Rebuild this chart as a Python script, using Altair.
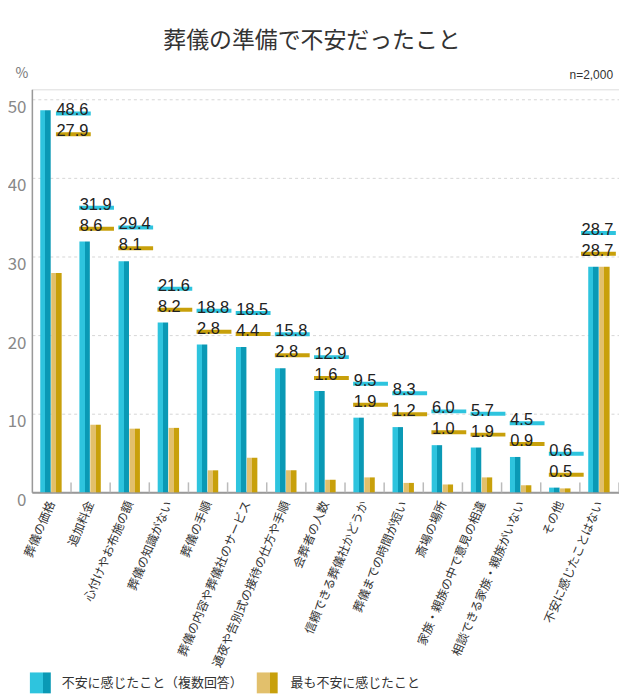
import altair as alt
import pandas as pd

categories = [
    "葬儀の価格", "追加料金", "心付けやお布施の額", "葬儀の知識がない", "葬儀の手順",
    "葬儀の内容や葬儀社のサービス", "通夜や告別式の接待の仕方や手順", "会葬者の人数",
    "信頼できる葬儀社かどうか", "葬儀までの時間が短い", "斎場の場所",
    "家族・親族の中で意見の相違", "相談できる家族・親族がいない", "その他", "不安に感じたことはない",
]
multi = [48.6, 31.9, 29.4, 21.6, 18.8, 18.5, 15.8, 12.9, 9.5, 8.3, 6.0, 5.7, 4.5, 0.6, 28.7]
most = [27.9, 8.6, 8.1, 8.2, 2.8, 4.4, 2.8, 1.6, 1.9, 1.2, 1.0, 1.9, 0.9, 0.5, 28.7]
y_ticks = [0, 10, 20, 30, 40, 50]
title_text = "葬儀の準備で不安だったこと"
legend_labels = ["不安に感じたこと（複数回答）", "最も不安に感じたこと"]
unit_text = "%"
n_text = "n=2,000"

df = pd.DataFrame({"cat": categories, "a": multi, "b": most})

FONT = "Noto Sans CJK JP"
NUMFONT = "Liberation Sans"
W, H = 590, 405
YMAX = 51.27
BLUE_L, BLUE_D = "#2EC4DE", "#0A99B5"
GOLD_L, GOLD_D = "#E2C06C", "#C8A00B"
TICKW = 35


def grad(light, dark, split=0.5):
    return {
        "gradient": "linear", "x1": 0, "y1": 0, "x2": 1, "y2": 0,
        "stops": [
            {"offset": 0, "color": light},
            {"offset": split, "color": light},
            {"offset": split, "color": dark},
            {"offset": 1, "color": dark},
        ],
    }


xaxis = alt.Axis(
    title=None, labelAngle=293, labelAlign="right", labelBaseline="middle",
    labelFontSize=12, labelColor="#333", labelFont=FONT, labelPadding=9,
    labelLimit=400, ticks=False, domainColor="#999", domainWidth=2,
)
xscale = alt.Scale(paddingInner=0, paddingOuter=0)
yscale = alt.Scale(domain=[0, YMAX], nice=False)
yaxis = alt.Axis(
    title=None, values=y_ticks, labelFontSize=17, labelColor="#888",
    labelFont=FONT, labelBaseline="top", ticks=False, domainColor="#999",
    domainWidth=1.5, gridColor="#d6d6d6", gridDash=[3, 3], labelPadding=6,
)


def X(**kw):
    return alt.X("cat:N", sort=categories, scale=xscale, axis=xaxis, **kw)


def Y(field):
    return alt.Y(field, scale=yscale, axis=yaxis)


base = alt.Chart(df)
blue_bars = base.mark_bar(size=10.5, xOffset=-6, color=grad(BLUE_L, BLUE_D)).encode(x=X(), y=Y("a:Q"))
gold_bars = base.mark_bar(size=10.5, xOffset=5, color=grad(GOLD_L, GOLD_D)).encode(x=X(), y=Y("b:Q"))
sep = base.mark_rule(color="#bbbbbb", strokeWidth=1.5).encode(
    x=X(bandPosition=1), y=alt.value(H - 10), y2=alt.value(H),
)

OFF = 4.3
CLAMP = 48.2
last_cat = categories[-1]
lab = base.transform_calculate(
    ly=f"min(datum.a + {OFF}, {CLAMP})",
    clamp=f"datum.a + {OFF} > {CLAMP}",
    last=f"datum.cat == '{last_cat}'",
)


def label_layers(cond, dx):
    b = lab.transform_filter(cond)
    ly = Y("ly:Q")
    tx = dx - TICKW / 2 + 0.5
    t1 = b.mark_tick(size=TICKW, thickness=4, xOffset=dx, color=BLUE_L, opacity=1).encode(x=X(), y=ly)
    s1 = b.mark_text(dx=tx, dy=2, align="left", baseline="alphabetic", fontSize=16.5,
                     font=NUMFONT, color="#222").encode(
        x=X(), y=ly, text=alt.Text("a:Q", format=".1f"))
    t2 = b.mark_tick(size=TICKW, thickness=4, xOffset=dx, yOffset=21, color=GOLD_D, opacity=1).encode(x=X(), y=ly)
    s2 = b.mark_text(dx=tx, dy=23, align="left", baseline="alphabetic", fontSize=16.5,
                     font=NUMFONT, color="#222").encode(
        x=X(), y=ly, text=alt.Text("b:Q", format=".1f"))
    return [t1, s1, t2, s2]


labels = (
    label_layers("datum.clamp", 22)
    + label_layers("datum.last", -1)
    + label_layers("!datum.clamp && !datum.last", 6)
)


def txt(s, x, y, size, color, align="center", weight="normal", font=FONT):
    return alt.Chart(pd.DataFrame({"t": [s]})).mark_text(
        align=align, baseline="middle", fontSize=size, color=color, font=font, fontWeight=weight
    ).encode(x=alt.value(x), y=alt.value(y), text="t:N")


def box(x0, x1, y0, y1, light, dark):
    return alt.Chart(pd.DataFrame({"t": [0]})).mark_rect(color=grad(light, dark, 0.62)).encode(
        x=alt.value(x0), x2=alt.value(x1), y=alt.value(y0), y2=alt.value(y1)
    )


decor = [
    txt(title_text, 281.5, -49, 23, "#333"),
    txt(unit_text, -10, -15, 14, "#777"),
    txt(n_text, 584, -14, 12, "#333", align="right", font=NUMFONT),
    box(-2, 19, 586, 607, BLUE_L, BLUE_D),
    txt(legend_labels[0], 30, 597, 13, "#333", align="left"),
    box(226, 247, 586, 607, GOLD_L, GOLD_D),
    txt(legend_labels[1], 260, 597, 13, "#333", align="left"),
]

chart = alt.layer(blue_bars, gold_bars, sep, *labels, *decor).properties(
    width=W, height=H,
    autosize=alt.AutoSizeParams(type="none"),
    padding={"left": 24, "top": 80, "right": 0, "bottom": 212},
).configure_view(fill="#f4f4f4", stroke=None).configure(background="white")

chart.save("out.html", embed_options={"renderer": "svg", "actions": False})
